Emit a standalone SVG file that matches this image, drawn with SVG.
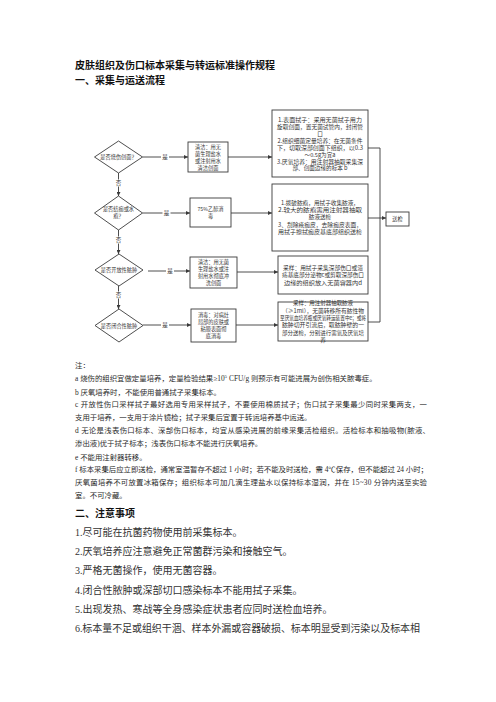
<svg xmlns="http://www.w3.org/2000/svg" width="496" height="702" viewBox="0 0 496 702">
<style>
.bg{fill:#ffffff}
.h{font-family:"Noto Sans CJK SC","Liberation Sans",sans-serif;font-weight:bold;font-size:10px;fill:#111}
.box{fill:#ffffff;stroke:#3a3a3a;stroke-width:0.9}
.dia{fill:#ffffff;stroke:#3a3a3a;stroke-width:0.9}
.t5{font-family:"Noto Sans CJK SC","Liberation Sans",sans-serif;font-size:5.2px;fill:#333;text-anchor:middle}
.t6{font-family:"Noto Sans CJK SC","Liberation Sans",sans-serif;font-size:5.6px;fill:#333;text-anchor:middle}
.con{fill:none;stroke:#3a3a3a;stroke-width:0.9}
.lbl{font-family:"Noto Sans CJK SC","Liberation Sans",sans-serif;font-size:5.5px;fill:#333;text-anchor:middle}
.lbg{fill:#ffffff}
.n{font-family:"Liberation Serif","Noto Sans CJK SC",serif;font-size:7.4px;fill:#2a2a2a}
.s{font-family:"Liberation Serif","Noto Sans CJK SC",serif;font-size:10px;fill:#333}
</style>
<defs>
<marker id="arr" viewBox="0 0 10 10" refX="10" refY="5" markerWidth="4" markerHeight="4" orient="auto" markerUnits="userSpaceOnUse">
<path d="M0,0 L10,5 L0,10 z" fill="#3a3a3a"/>
</marker>
</defs>
<rect class="bg" x="0" y="0" width="496" height="702"/>

<g id="title">
<text class="h" x="75" y="69">皮肤组织及伤口标本采集与转运标准操作规程</text>
<text class="h" x="75" y="83.5">一、采集与运送流程</text>
</g>

<g id="connectors">
<line class="con" x1="142.5" y1="157" x2="188" y2="157" marker-end="url(#arr)"/>
<line class="con" x1="228" y1="157" x2="272" y2="157" marker-end="url(#arr)"/>
<line class="con" x1="118.5" y1="173" x2="118.5" y2="196" marker-end="url(#arr)"/>
<line class="con" x1="142.5" y1="213" x2="190" y2="213" marker-end="url(#arr)"/>
<line class="con" x1="231" y1="213" x2="272" y2="213" marker-end="url(#arr)"/>
<line class="con" x1="118.5" y1="229" x2="118.5" y2="254" marker-end="url(#arr)"/>
<line class="con" x1="148" y1="271" x2="190" y2="271" marker-end="url(#arr)"/>
<line class="con" x1="237" y1="272" x2="278" y2="272" marker-end="url(#arr)"/>
<line class="con" x1="118.5" y1="286" x2="118.5" y2="309" marker-end="url(#arr)"/>
<line class="con" x1="143" y1="325" x2="191" y2="325" marker-end="url(#arr)"/>
<line class="con" x1="236" y1="325" x2="278" y2="325" marker-end="url(#arr)"/>
<polyline class="con" points="368,148 380,148 380,322 368,322"/>
<line class="con" x1="368" y1="218" x2="386" y2="218" marker-end="url(#arr)"/>
<rect class="lbg" x="161" y="153.5" width="8" height="7"/>
<text class="lbl" x="165" y="159">是</text>
<rect class="lbg" x="114.5" y="179.5" width="8" height="7"/>
<text class="lbl" x="118.5" y="185">否</text>
<rect class="lbg" x="162.5" y="209.5" width="8" height="7"/>
<text class="lbl" x="166.5" y="215">是</text>
<rect class="lbg" x="114.5" y="236.5" width="8" height="7"/>
<text class="lbl" x="118.5" y="242">否</text>
<rect class="lbg" x="166" y="267.5" width="8" height="7"/>
<text class="lbl" x="170" y="273">是</text>
<rect class="lbg" x="114.5" y="291.5" width="8" height="7"/>
<text class="lbl" x="118.5" y="297">否</text>
<rect class="lbg" x="161" y="321.5" width="8" height="7"/>
<text class="lbl" x="165" y="327">是</text>
</g>

<g id="d1">
<polygon class="dia" points="118.5,141 142.5,157 118.5,173 94.5,157"/>
<text class="t5" x="118.5" y="159">是否烧伤创面？</text>
</g>
<g id="d2">
<polygon class="dia" points="118.5,196 142.5,213 118.5,230 94.5,213"/>
<text class="t5" x="118.5" y="211">是否结痂或水</text>
<text class="t5" x="118.5" y="218">疱？</text>
</g>
<g id="d3">
<polygon class="dia" points="119,254 143,270 119,286 95,270"/>
<text class="t5" x="119" y="272">是否开放性脓肿</text>
</g>
<g id="d4">
<polygon class="dia" points="119,309 143,325.5 119,342 95,325.5"/>
<text class="t5" x="119" y="327.5">是否闭合性脓肿</text>
</g>

<g id="b1">
<rect class="box" x="188" y="142" width="40" height="30"/>
<text class="t5" x="208" y="149">清洁：用无</text>
<text class="t5" x="208" y="156">菌生理盐水</text>
<text class="t5" x="208" y="163">或注射用水</text>
<text class="t5" x="208" y="170">清洁创面</text>
</g>
<g id="b2">
<rect class="box" x="190" y="198" width="41" height="29"/>
<text class="t5" x="210.5" y="211">75%乙醇消</text>
<text class="t5" x="210.5" y="218">毒</text>
</g>
<g id="b3">
<rect class="box" x="190" y="257" width="47" height="31"/>
<text class="t5" x="213.5" y="264">清洁：用无菌</text>
<text class="t5" x="213.5" y="271">生理盐水或注</text>
<text class="t5" x="213.5" y="278">射用水彻底冲</text>
<text class="t5" x="213.5" y="285">洗创面</text>
</g>
<g id="b4">
<rect class="box" x="191" y="309" width="45" height="33"/>
<text class="t5" x="213.5" y="317">消毒：对病灶</text>
<text class="t5" x="213.5" y="324">局部的皮肤或</text>
<text class="t5" x="213.5" y="331">粘膜表面彻</text>
<text class="t5" x="213.5" y="338">底消毒</text>
</g>

<g id="c1">
<rect class="box" x="272" y="110" width="96" height="67"/>
<text class="t6" x="320" y="122" textLength="84" lengthAdjust="spacingAndGlyphs">1.表面拭子：采用无菌拭子用力</text>
<text class="t6" x="320" y="129" textLength="86" lengthAdjust="spacingAndGlyphs">旋取创面，置无菌试管内，封闭管</text>
<text class="t6" x="320" y="136">口</text>
<text class="t6" x="320" y="142.5" textLength="85" lengthAdjust="spacingAndGlyphs">2.组织细菌定量培养：在无菌条件</text>
<text class="t6" x="320" y="149.5" textLength="86" lengthAdjust="spacingAndGlyphs">下，切取深部创面下组织，以0.3</text>
<text class="t6" x="320" y="156.5">～0.5g为宜a</text>
<text class="t6" x="320" y="163.5" textLength="86" lengthAdjust="spacingAndGlyphs">3.厌氧培养：用注射器抽取采集深</text>
<text class="t6" x="320" y="170">部、创面边缘的标本 b</text>
</g>
<g id="c2">
<rect class="box" x="272" y="184" width="96" height="67"/>
<text class="t6" x="320" y="205" textLength="78" lengthAdjust="spacingAndGlyphs">1.拨破脓疱，用拭子收集脓液，</text>
<text class="t6" x="320" y="212" textLength="84" lengthAdjust="spacingAndGlyphs">2.较大的脓疱需用注射器抽取</text>
<text class="t6" x="320" y="219">脓液送检</text>
<text class="t6" x="320" y="227" textLength="84" lengthAdjust="spacingAndGlyphs">3、刮除疮痂皮，去除痂皮表面，</text>
<text class="t6" x="320" y="234" textLength="84" lengthAdjust="spacingAndGlyphs">用拭子擦拭痂皮基底部组织送检</text>
</g>
<g id="c3">
<rect class="box" x="278" y="256" width="90" height="38"/>
<text class="t6" x="323" y="270" textLength="80" lengthAdjust="spacingAndGlyphs">采样：用拭子采集深部伤口或溃</text>
<text class="t6" x="323" y="277" textLength="82" lengthAdjust="spacingAndGlyphs">疡基底部分泌物c或剪取深部伤口</text>
<text class="t6" x="323" y="285" textLength="78" lengthAdjust="spacingAndGlyphs">边缘的组织放入无菌容器内d</text>
</g>
<g id="c4">
<rect class="box" x="278" y="302" width="90" height="39"/>
<text class="t6" x="323" y="305" textLength="60" lengthAdjust="spacingAndGlyphs">采样：用注射器抽取脓液</text>
<text class="t6" x="323" y="312.5" textLength="82" lengthAdjust="spacingAndGlyphs">（≥1ml），无菌转移所有脓性物</text>
<text class="t6" x="323" y="320" textLength="86" lengthAdjust="spacingAndGlyphs">至厌氧血培养瓶或厌氧转运装置中e；或将</text>
<text class="t6" x="323" y="327" textLength="82" lengthAdjust="spacingAndGlyphs">脓肿切开引流后，取脓肿壁的一</text>
<text class="t6" x="323" y="334.5" textLength="82" lengthAdjust="spacingAndGlyphs">部分送检，分别进行需氧及厌氧培</text>
<text class="t6" x="323" y="341.5">养</text>
</g>
<g id="send">
<rect class="box" x="386" y="212" width="23" height="14"/>
<text class="t5" x="397.5" y="221">送检</text>
</g>

<g id="notes">
<text class="n" x="75" y="368">注：</text>
<text class="n" x="75" y="381">a 烧伤的组织宜做定量培养，定量检验结果≥10<tspan font-size="5" dy="-3">5</tspan><tspan dy="3"> CFU/g 则预示有可能进展为创伤相关脓毒症。</tspan></text>
<text class="n" x="75" y="395">b 厌氧培养时，不能使用普通拭子采集标本。</text>
<text class="n" x="75" y="407" textLength="352" lengthAdjust="spacing">c 开放性伤口采样拭子最好选用专用采样拭子，不要使用棉质拭子；伤口拭子采集最少同时采集两支，一</text>
<text class="n" x="75" y="420">支用于培养，一支用于涂片镜检；拭子采集后宜置于转运培养基中运送。</text>
<text class="n" x="75" y="433" textLength="355" lengthAdjust="spacing">d 无论是浅表伤口标本、深部伤口标本，均宜从感染进展的前缘采集活检组织。活检标本和抽吸物(脓液、</text>
<text class="n" x="75" y="446">渗出液)优于拭子标本；浅表伤口标本不能进行厌氧培养。</text>
<text class="n" x="75" y="460">e 不能用注射器转移。</text>
<text class="n" x="75" y="472" textLength="353" lengthAdjust="spacing">f 标本采集后应立即送检，通常室温暂存不超过 1 小时；若不能及时送检，需 4℃保存，但不能超过 24 小时；</text>
<text class="n" x="75" y="485" textLength="352" lengthAdjust="spacing">厌氧菌培养不可放置冰箱保存；组织标本可加几滴生理盐水以保持标本湿润，并在 15~30 分钟内送至实验</text>
<text class="n" x="75" y="498">室。不可冷藏。</text>
</g>

<g id="section2">
<text class="h" x="75" y="517">二、注意事项</text>
<text class="s" x="75" y="536">1.尽可能在抗菌药物使用前采集标本。</text>
<text class="s" x="75" y="555">2.厌氧培养应注意避免正常菌群污染和接触空气。</text>
<text class="s" x="75" y="574">3.严格无菌操作，使用无菌容器。</text>
<text class="s" x="75" y="594">4.闭合性脓肿或深部切口感染标本不能用拭子采集。</text>
<text class="s" x="75" y="613">5.出现发热、寒战等全身感染症状患者应同时送检血培养。</text>
<text class="s" x="75" y="632" textLength="345" lengthAdjust="spacing">6.标本量不足或组织干涸、样本外漏或容器破损、标本明显受到污染以及标本相</text>
</g>
</svg>
